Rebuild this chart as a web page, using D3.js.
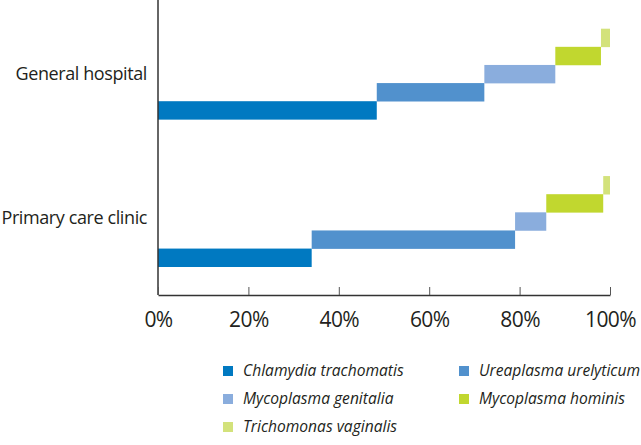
<!DOCTYPE html>
<html>
<head>
<meta charset="utf-8">
<script src="https://cdn.jsdelivr.net/npm/d3@7"></script>
<style>
  body { margin: 0; background: #fff; }
  svg { display: block; font-family: "Open Sans", sans-serif; }
</style>
</head>
<body>
<svg id="chart" width="641" height="445"></svg>
<script>
// data (percent of positives per setting)
const categories = ['General hospital', 'Primary care clinic'];
const seriesNames = ['Chlamydia trachomatis', 'Ureaplasma urelyticum', 'Mycoplasma genitalia', 'Mycoplasma hominis', 'Trichomonas vaginalis'];
const generalHospital = [48.4, 23.8, 15.7, 10.1, 2.0];
const primaryCare = [34.0, 45.0, 6.9, 12.6, 1.5];
const xTicks = [0, 20, 40, 60, 80, 100];
const colors = ['#0079c1', '#5191cd', '#8aaddd', '#c1d72f', '#d3e27b'];

const svg = d3.select('#chart');
const textColor = '#231f20';

const x = d3.scaleLinear().domain([0, 100]).range([158, 610]);

const y = d3.scaleBand()
  .domain(categories)
  .range([28.7, 266.7])
  .paddingInner(0.385)
  .paddingOuter(0);

// each series sits one step lower than the next -> staircase
const yInner = d3.scaleBand()
  .domain(seriesNames.slice().reverse())
  .range([0, y.bandwidth()]);

const color = d3.scaleOrdinal().domain(seriesNames).range(colors);

const rows = [generalHospital, primaryCare].map((vals, i) => {
  let acc = 0;
  return vals.map((v, j) => {
    const d = { cat: categories[i], name: seriesNames[j], x0: acc, x1: acc + v };
    acc += v;
    return d;
  });
}).flat();

svg.append('g')
  .selectAll('rect')
  .data(rows)
  .join('rect')
  .attr('x', d => x(d.x0))
  .attr('width', d => x(d.x1) - x(d.x0))
  .attr('y', d => y(d.cat) + yInner(d.name))
  .attr('height', yInner.bandwidth() + 0.3)
  .attr('fill', d => color(d.name));

// vertical axis line
svg.append('line')
  .attr('x1', x(0)).attr('x2', x(0))
  .attr('y1', 0).attr('y2', 295)
  .attr('stroke', '#333').attr('stroke-width', 1.5);

// category labels
svg.append('g')
  .selectAll('text')
  .data(categories)
  .join('text')
  .attr('x', 147)
  .attr('y', d => y(d) + y.bandwidth() / 2 + (d === categories[1] ? -4 : 0))
  .attr('dy', '0.35em')
  .attr('text-anchor', 'end')
  .attr('fill', textColor)
  .style('font-size', '18px')
  .style('letter-spacing', '-0.4px')
  .text(d => d);

// x axis
const xAxis = svg.append('g')
  .attr('transform', 'translate(0,295)')
  .call(d3.axisBottom(x)
    .tickValues(xTicks)
    .tickFormat(d => d + '%')
    .tickSizeInner(-8)
    .tickSizeOuter(0)
    .tickPadding(17));

xAxis.select('.domain').attr('stroke', '#333').attr('stroke-width', 1.5);
xAxis.selectAll('.tick line').attr('stroke', '#555').attr('stroke-width', 1);
xAxis.selectAll('.tick text')
  .attr('fill', textColor)
  .style('font-size', '21px')
  .style('letter-spacing', '-0.6px')
  .style('font-family', '"Open Sans", sans-serif');

// legend
const legendPos = [
  [223, 371], [459, 371],
  [223, 399], [459, 399],
  [223, 427]
];

const legend = svg.append('g')
  .selectAll('g')
  .data(seriesNames)
  .join('g')
  .attr('transform', (d, i) => `translate(${legendPos[i][0]},${legendPos[i][1]})`);

legend.append('rect')
  .attr('x', 0).attr('y', -5)
  .attr('width', 10).attr('height', 10)
  .attr('fill', d => color(d));

legend.append('text')
  .attr('x', 20)
  .attr('dy', '0.35em')
  .attr('fill', textColor)
  .style('font-size', '15.6px')
  .style('font-style', 'italic')
  .text(d => d);
</script>
</body>
</html>
